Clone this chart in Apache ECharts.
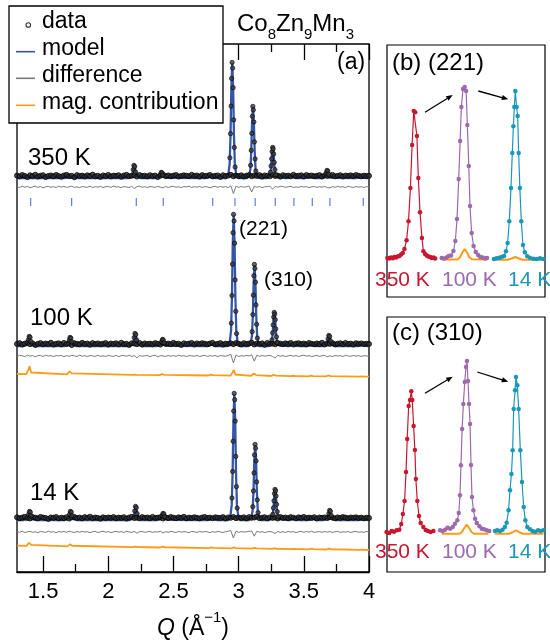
<!DOCTYPE html>
<html><head><meta charset="utf-8">
<script src="https://cdn.jsdelivr.net/npm/echarts@6/dist/echarts.min.js"></script>
<style>html,body{margin:0;padding:0;background:#fff}#c{width:550px;height:644px}</style>
</head><body><div id="c"></div><script>
// ---------- DATA ----------
const hkl = ['110','111','210','211','220','221','310','311','222','320','321','400'];
const tickQ = [1.405,1.719,2.215,2.422,2.801,2.972,3.127,3.281,3.424,3.565,3.700,3.956];
const peakQ350 = [1.391,1.703,2.199,2.409,2.782,2.951,3.110,3.262,3.407,3.546,3.680,3.934];
const peakQ100 = [1.396,1.709,2.207,2.418,2.792,2.962,3.122,3.274,3.420,3.559,3.694,3.949];
const peakQ14  = [1.398,1.712,2.211,2.422,2.797,2.967,3.127,3.280,3.425,3.565,3.700,3.955];
const peakH350 = [0,2,12,5,1,115,71,30,2,1,7,1];
const peakH100 = [9,8,12,6,2,131,81,33,1,1,10,1];
const peakH14  = [8,8,13,6,2,126,75,30,1.5,1.5,9,1];
const magH100 = [8,5,0.5,1.5,1.5,6,3.5,2,0.5,1,1.5,0.5];
const magH14  = [5,3.3,1,1.3,1,1.5,1,0.7,0.5,1,1.3,0.5];
const magBase100 = [197.9,197.6,197.1,196.9,196.5,196.3,196.2,196.0,195.9,195.7,195.6,195.3];
const magEnds100 = [198,195.3];
const magBase14 = [26.1,25.6,24.8,24.5,23.9,23.6,23.4,23.1,22.9,22.7,22.5,22.1];
const magEnds14 = [26.3,22];
const base350 = 394, base100 = 226, base14 = 52;
const dataLift = 1.2;
const diffBase350 = 385, diffBase100 = 216, diffBase14 = 40;
const tickLevel = 370;
// peak profile (offset in Q, fraction of height)
const modelDQ = [-0.045,-0.03,-0.02,-0.013,-0.007,0,0.007,0.013,0.02,0.03,0.045];
const modelFrac = [0,0.03,0.12,0.38,0.78,1,0.78,0.38,0.12,0.03,0];
const dataDQ = [-0.018,-0.013,-0.009,-0.005,-0.001,0.003,0.007,0.011,0.016,0.022];
const dataFrac = [0.17,0.38,0.62,0.86,1.0,0.95,0.78,0.5,0.26,0.09];
const dataDQsmall = [-0.008,-0.002,0.004,0.010];
const dataFracSmall = [0.65,1.0,0.9,0.45];
const magDQ = [-0.025,-0.012,-0.006,0,0.006,0.012,0.025];
const magFrac = [0,0.2,0.62,1,0.62,0.2,0];
const qGrid = [1.30,1.32,1.34,1.36,1.38,1.40,1.42,1.44,1.46,1.48,
1.50,1.52,1.54,1.56,1.58,1.60,1.62,1.64,1.66,1.68,
1.70,1.72,1.74,1.76,1.78,1.80,1.82,1.84,1.86,1.88,
1.90,1.92,1.94,1.96,1.98,2.00,2.02,2.04,2.06,2.08,
2.10,2.12,2.14,2.16,2.18,2.20,2.22,2.24,2.26,2.28,
2.30,2.32,2.34,2.36,2.38,2.40,2.42,2.44,2.46,2.48,
2.50,2.52,2.54,2.56,2.58,2.60,2.62,2.64,2.66,2.68,
2.70,2.72,2.74,2.76,2.78,2.80,2.82,2.84,2.86,2.88,
2.90,2.92,2.94,2.96,2.98,3.00,3.02,3.04,3.06,3.08,
3.10,3.12,3.14,3.16,3.18,3.20,3.22,3.24,3.26,3.28,
3.30,3.32,3.34,3.36,3.38,3.40,3.42,3.44,3.46,3.48,
3.50,3.52,3.54,3.56,3.58,3.60,3.62,3.64,3.66,3.68,
3.70,3.72,3.74,3.76,3.78,3.80,3.82,3.84,3.86,3.88,
3.90,3.92,3.94,3.96,3.98,4.00];
const noise350 = [1.2,0.4,1.8,0.9,-0.3,1.5,0.7,2.1,0.2,1.1,1.6,-0.2,0.9,1.4,0.5,1.9,0.8,
0.1,1.3,2.0,0.6,1.0,-0.4,1.7,0.9,1.2,0.3,1.5,0.8,2.2,0.5,1.1,-0.1,1.4,
0.7,1.9,0.4,1.2,0.9,1.6,0.0,1.3,2.0,0.6,1.0,1.5,0.2,1.8,0.9,1.1,0.4,
1.6,0.8,1.3,-0.2,1.0,2.1,0.7,1.4,0.5,1.2,1.8,0.3,0.9,1.5,1.1,0.6,2.0,
0.9,1.3,0.2,1.7,0.8,1.1,1.9,0.4,1.0,1.4,-0.1,1.6,0.7,1.2,2.0,0.5,1.3,
0.8,1.5,0.3,1.1,1.8,0.6,1.2,0.9,1.7,0.2,1.4,1.0,0.5,1.9,0.8,1.3,0.1,
1.6,0.9,1.2,0.4,2.0,0.7,1.1,1.5,0.3,1.8,0.9,1.3,0.6,1.0,1.7,0.2,1.4,
0.8,1.2,1.9,0.5,1.0,1.6,0.3,1.3,0.9,1.5,0.6,1.8,1.1,0.4,1.2,0.9,1.0];
const noise100 = [0.9,1.7,0.3,1.2,2.0,0.6,1.4,-0.2,1.0,1.8,0.5,1.3,0.8,2.1,0.2,1.1,1.5,
0.4,1.9,0.7,1.2,-0.3,1.6,1.0,0.5,2.0,0.9,1.3,0.1,1.7,0.8,1.4,0.6,1.1,
1.8,0.2,1.3,0.9,1.6,0.4,2.1,0.7,1.0,-0.1,1.5,1.2,0.6,1.9,0.3,1.4,0.8,
1.2,0.5,1.7,1.0,0.2,1.8,0.9,1.3,0.6,2.0,0.8,1.1,-0.2,1.5,0.7,1.2,1.9,
0.3,1.4,0.8,1.6,1.1,0.5,1.3,2.0,0.4,1.0,1.7,0.2,1.2,0.9,1.5,0.6,1.8,
1.0,0.4,1.6,0.8,1.3,2.1,0.3,1.1,0.7,1.5,0.0,1.9,0.9,1.2,0.5,1.7,1.1,
0.6,1.5,0.9,1.9,0.2,1.2,1.6,0.7,1.3,0.4,1.8,1.0,0.5,1.4,0.8,2.0,0.3,
1.3,0.9,1.7,0.4,1.1,1.5,0.6,1.9,0.8,1.2,0.3,1.6,1.0,1.4,0.7,1.1,0.9];
const noise14 = [1.5,0.6,1.2,2.0,0.9,0.3,1.7,1.1,0.5,1.9,1.3,0.8,-0.1,1.4,1.0,1.8,0.4,
1.1,0.7,1.6,0.2,1.4,1.9,0.8,1.2,0.4,1.7,1.0,2.1,0.6,1.3,0.9,0.1,1.5,
0.8,1.4,1.0,1.8,0.5,1.2,0.9,1.6,0.2,1.3,2.0,0.7,1.1,0.4,1.7,1.0,1.3,
0.5,1.9,0.9,1.2,1.6,0.3,1.4,0.8,1.8,1.1,0.6,1.5,1.0,2.0,0.4,1.2,0.7,
1.6,1.0,0.4,1.3,1.9,0.8,1.2,0.5,1.5,1.1,0.9,1.7,0.3,1.4,1.0,1.8,0.6,
1.2,0.8,1.5,0.4,1.7,1.0,1.3,2.0,0.6,1.1,1.6,0.5,1.4,0.9,1.2,0.3,1.8,
0.9,1.3,0.6,1.7,1.1,0.4,1.5,1.0,1.9,0.7,1.2,0.8,1.6,0.3,1.3,1.0,1.4,
0.7,1.6,1.1,0.5,1.4,0.9,1.8,1.2,0.6,1.3,1.0,1.5,0.8,1.2,0.4,1.1,0.9];
const diff350 = [0.3,-0.5,0.8,-0.2,0.6,-0.7,0.1,0.9,-0.4,0.5,-0.8,0.2,0.7,-0.3,0.4,-0.6,0.8,
-0.1,0.6,-0.5,0.3,0.9,-0.4,0.2,-0.7,0.5,0.1,-0.3,0.8,-0.6,0.4,-0.2,0.7,-0.5,
0.2,0.6,-0.4,0.9,-0.1,0.3,-0.7,0.5,0.0,-0.5,0.7,-1.6,0.4,0.8,-0.3,0.4,-0.6,
0.5,0.1,-0.4,0.8,-0.2,-0.9,0.6,-0.5,0.3,0.7,-0.3,0.2,-0.6,0.5,0.0,0.8,-0.4,
0.3,-0.2,0.6,-0.5,0.4,0.1,-0.7,0.2,0.6,-0.3,0.5,-0.1,0.4,-0.6,1.2,-6.5,0.8,
-0.4,0.6,-0.2,0.3,1.0,-5.0,0.7,-0.3,0.5,-0.6,0.2,0.4,0.8,-2.2,0.5,-0.2,0.6,
0.5,-0.4,0.3,0.7,-0.5,0.1,-0.3,0.6,-0.1,0.4,-0.6,0.2,0.5,-0.4,0.3,-0.2,0.6,
-0.5,-0.8,0.4,-0.3,0.6,-0.1,0.3,-0.5,0.7,0.0,-0.4,0.5,-0.2,0.3,-0.6,0.4,-0.1];
const diff100 = [-0.4,0.7,0.2,-0.6,0.9,-0.2,0.5,-0.8,0.3,0.6,-0.5,0.8,-0.1,0.4,-0.7,0.5,0.1,
0.6,-0.8,0.4,-0.3,0.7,0.2,-0.5,0.9,-0.2,0.3,-0.6,0.5,0.1,-0.4,0.8,-0.3,0.2,
-0.5,0.7,0.0,-0.4,0.6,-0.7,0.3,0.5,-0.2,0.8,-0.5,0.4,-1.8,0.6,-0.3,0.2,0.5,
-0.6,0.3,0.7,-0.9,0.4,0.1,-0.5,0.6,-0.2,0.5,-0.4,0.8,-0.1,0.3,-0.6,0.4,0.2,
-0.3,0.6,-0.5,0.2,0.7,-0.4,0.3,-0.1,0.5,-0.6,0.4,0.2,-0.3,0.6,1.8,-7.0,1.0,
-0.5,0.4,-0.2,0.6,0.1,1.2,-5.2,0.9,-0.4,0.5,-0.2,0.3,0.6,-0.5,-2.0,0.7,-0.3,
0.4,-0.6,0.2,0.7,-0.3,0.5,-0.5,0.3,0.8,-0.2,0.4,-0.7,0.1,0.6,-0.4,0.3,0.5,
-0.8,0.2,-0.6,0.5,-0.1,0.4,-0.5,0.7,0.0,-0.3,0.6,-0.2,0.4,-0.5,0.3,0.1,-0.4];
const diff14 = [0.5,-0.3,0.8,-0.6,0.2,0.7,-0.4,0.3,-0.8,0.6,0.1,-0.5,0.9,-0.2,0.4,-0.7,0.5,
-0.1,0.6,-0.4,0.8,0.2,-0.6,0.5,-0.3,0.7,-0.1,0.4,-0.7,0.3,0.6,-0.5,0.2,0.8,
-0.3,0.5,-0.6,0.1,0.7,-0.2,0.4,-0.5,0.8,0.0,-0.4,0.6,-1.2,0.3,0.5,-0.3,0.2,
0.6,-0.5,0.3,-0.1,0.8,-1.0,0.4,-0.3,0.6,0.1,-0.5,0.7,-0.2,0.4,0.0,-0.6,0.5,
0.2,-0.4,0.7,-0.2,0.5,0.1,-0.6,0.4,-0.3,0.6,0.0,-0.5,0.3,0.7,1.5,-6.0,0.9,
-0.4,0.5,-0.1,0.3,0.6,1.0,-4.2,0.8,-0.3,0.4,-0.6,0.2,0.5,-0.2,-1.6,0.6,-0.4,
0.3,-0.5,0.7,-0.1,0.4,-0.6,0.2,0.6,-0.3,0.5,-0.2,0.8,-0.5,0.1,0.4,-0.3,0.6,
-0.2,0.5,-0.6,0.3,0.7,-0.4,0.2,-0.1,0.5,-0.5,0.3,0.6,-0.3,0.2,-0.4,0.5,0.0];
// insets: [Q offset from peak, intensity]
const b350 = [[-0.113,1],[-0.105,0.5],[-0.098,1.5],[-0.091,0.8],[-0.084,2],[-0.077,1.5],[-0.070,2.5],[-0.063,3],[-0.056,4.5],[-0.049,6],[-0.042,10],[-0.033,18.7],[-0.025,37.7],[-0.017,71],[-0.010,114],[-0.003,148],[0.003,146.7],[0.010,123],[0.016,81],[0.023,46.7],[0.031,21],[0.037,7.7],[0.044,5],[0.051,3.5],[0.058,2.5],[0.065,2],[0.072,1],[0.079,1.5],[0.086,0.5]];
const b100 = [[-0.096,1],[-0.086,0.5],[-0.076,1.5],[-0.067,3],[-0.057,3.5],[-0.047,8],[-0.039,18],[-0.032,40],[-0.025,80],[-0.019,118],[-0.014,152],[-0.007,170],[0,172],[0.006,168],[0.011,134],[0.017,93],[0.022,53],[0.029,26],[0.037,13],[0.046,7],[0.056,4],[0.065,2],[0.075,1.5],[0.085,0.5],[0.093,1]];
const b14 = [[-0.089,0],[-0.078,0.7],[-0.067,1.3],[-0.057,2],[-0.047,3],[-0.039,7.7],[-0.032,16],[-0.025,37.7],[-0.018,71],[-0.0125,106],[-0.008,132.7],[-0.004,152],[0,168],[0.0055,152],[0.0097,143],[0.014,106],[0.019,71],[0.025,37.7],[0.032,14],[0.040,6.7],[0.050,2.7],[0.061,1.3],[0.075,0.3],[0.089,0],[0.103,0.7],[0.117,0]];
const bMag100 = [[-0.096,-0.5],[-0.03,-0.5],[-0.02,1.5],[-0.01,6.5],[0,10],[0.01,6.5],[0.02,1.5],[0.03,-0.3],[0.093,-0.5]];
const bMag14 = [[-0.089,-0.7],[-0.03,-0.7],[-0.015,0.5],[0,2],[0.015,0.5],[0.03,-0.7],[0.117,-0.7]];
const c350 = [[-0.103,-1],[-0.092,-2],[-0.082,0],[-0.072,-0.7],[-0.061,0.7],[-0.050,1.3],[-0.042,7],[-0.035,17],[-0.028,30],[-0.022,59],[-0.017,92],[-0.011,125],[-0.0055,131],[0,139.7],[0.004,131],[0.0097,105],[0.015,81],[0.019,52],[0.025,30],[0.032,15],[0.039,8],[0.050,4],[0.060,1],[0.069,0],[0.080,-1],[0.092,0]];
const c100 = [[-0.111,0.7],[-0.100,0],[-0.090,1.3],[-0.080,3.3],[-0.069,2.3],[-0.058,4],[-0.049,7.3],[-0.039,10.7],[-0.033,18],[-0.028,35.7],[-0.024,65.7],[-0.019,102],[-0.014,127],[-0.008,149],[-0.003,164],[0.001,170],[0.0055,150],[0.0097,127],[0.014,107],[0.018,66],[0.022,34],[0.028,20.7],[0.035,12.3],[0.042,8],[0.053,4.7],[0.063,2.3],[0.072,1.7],[0.083,0.7],[0.094,0]];
const c14 = [[-0.0875,0],[-0.078,0.7],[-0.067,0],[-0.056,1.3],[-0.046,4],[-0.039,8.3],[-0.031,20.7],[-0.025,40.7],[-0.019,57],[-0.014,80.7],[-0.0097,122],[-0.004,140.7],[0,154],[0.0055,145.7],[0.011,122],[0.018,80.7],[0.025,49],[0.032,24],[0.039,10.7],[0.047,4],[0.058,1.7],[0.069,0],[0.080,-0.7],[0.092,0.7],[0.103,0],[0.114,0.7]];
const cMag100 = [[-0.104,-2.7],[-0.03,-2.7],[-0.02,-1],[-0.01,3],[0,6.3],[0.01,3],[0.02,-1],[0.03,-2.7],[0.09,-2.7]];
const cMag14 = [[-0.088,-2.7],[-0.03,-2.7],[-0.015,-1.5],[0,0.7],[0.015,-1.5],[0.03,-2.7],[0.114,-2.7]];
const majorTicks = [1.5,2,2.5,3,3.5,4];
const minorTicks = [1.75,2.25,2.75,3.25,3.75];

// ---------- BUILD ----------
const FF = '"Liberation Sans", Arial, Helvetica, sans-serif';
const COL = {blue:'#3556a8', tick:'#3a5fc8', gray:'#7a7a7a', orange:'#ff9a14', red:'#c8162e', purple:'#9c6aad', teal:'#1898b8'};

function modelLine(pq, ph, base) {
  const pts = [[qGrid[0], base]];
  pq.forEach((q, i) => modelDQ.forEach((d, k) => pts.push([q + d, base + ph[i] * modelFrac[k]])));
  pts.push([qGrid[qGrid.length - 1], base]);
  return pts;
}
function basePts(noise, base) { return qGrid.map((q, i) => [q, base + dataLift + noise[i]]); }
function peakPts(pq, ph, base) {
  const pts = [];
  pq.forEach((q, i) => {
    if (ph[i] >= 20) dataDQ.forEach((d, k) => pts.push([q + d, base + 0.6 + ph[i] * dataFrac[k]]));
    else if (ph[i] >= 5) dataDQsmall.forEach((d, k) => pts.push([q + d, base + 0.6 + ph[i] * dataFracSmall[k]]));
  });
  return pts;
}
function diffLine(dn, base) { return qGrid.map((q, i) => [q, base + dn[i]]); }
function magLine(pq, mh, mb, ends) {
  const pts = [[qGrid[0], ends[0]]];
  pq.forEach((q, i) => magDQ.forEach((d, k) => pts.push([q + d, mb[i] + mh[i] * magFrac[k]])));
  pts.push([qGrid[qGrid.length - 1], ends[1]]);
  return pts;
}

const OB = {outerBoundsMode:'none', containLabel:false};
const grids = [
  Object.assign({left:17, top:44, width:352, height:528, show:true, borderColor:'#000', borderWidth:1.3}, OB),
  Object.assign({left:387, top:45, width:158, height:252, show:true, borderColor:'#000', borderWidth:1.2}, OB),
  Object.assign({left:414.5-28.8, top:45, width:57.6, height:252}, OB),
  Object.assign({left:464.7-28.8, top:45, width:57.6, height:252}, OB),
  Object.assign({left:515.3-28.8, top:45, width:57.6, height:252}, OB),
  Object.assign({left:387, top:317, width:158, height:255, show:true, borderColor:'#000', borderWidth:1.2}, OB),
  Object.assign({left:411.3-28.8, top:317, width:57.6, height:255}, OB),
  Object.assign({left:466.7-28.8, top:317, width:57.6, height:255}, OB),
  Object.assign({left:516-28.8, top:317, width:57.6, height:255}, OB)
];
const tickLine = {color:'#000', width:1.3};
const xAxes = [
  {gridIndex:0, type:'value', min:1.3, max:4.0, position:'bottom',
   axisLine:{show:true, lineStyle:{color:'#000', width:1.3}},
   axisTick:{show:true, inside:true, length:16, customValues:majorTicks, lineStyle:tickLine},
   axisLabel:{show:true, customValues:majorTicks, fontSize:22, fontFamily:FF, color:'#000', margin:9},
   splitLine:{show:false},
   name:'{q|Q} {t|(Å}{s|−1}{t|)}', nameLocation:'middle', nameGap:38,
   nameTextStyle:{fontFamily:FF, fontSize:23, color:'#000', lineHeight:30,
     rich:{q:{fontFamily:FF, fontSize:23, fontStyle:'italic', lineHeight:30, verticalAlign:'bottom', color:'#000'},
           t:{fontFamily:FF, fontSize:23, lineHeight:30, verticalAlign:'bottom', color:'#000'},
           s:{fontFamily:FF, fontSize:15, lineHeight:15, verticalAlign:'top', color:'#000'}}}},
  {gridIndex:0, type:'value', min:1.3, max:4.0, position:'bottom', axisLine:{show:false},
   axisTick:{show:true, inside:true, length:8, customValues:minorTicks, lineStyle:tickLine},
   axisLabel:{show:false}, splitLine:{show:false}},
  {gridIndex:0, type:'value', min:1.3, max:4.0, position:'top', axisLine:{show:false},
   axisTick:{show:true, inside:true, length:16, customValues:majorTicks, lineStyle:tickLine},
   axisLabel:{show:false}, splitLine:{show:false}},
  {gridIndex:0, type:'value', min:1.3, max:4.0, position:'top', axisLine:{show:false},
   axisTick:{show:true, inside:true, length:8, customValues:minorTicks, lineStyle:tickLine},
   axisLabel:{show:false}, splitLine:{show:false}}
];
const yAxes = [{gridIndex:0, type:'value', min:0, max:528, show:false}];
for (let g = 1; g < 9; g++) {
  xAxes.push({gridIndex:g, type:'value', min:-0.12, max:0.12, show:false});
  yAxes.push({gridIndex:g, type:'value', min: g < 5 ? -38 : -41, max:214, show:false});
}

const series = [];
function addLine(data, color, width, xi, yi, z) {
  series.push({type:'line', data, xAxisIndex:xi, yAxisIndex:yi, symbol:'none', lineStyle:{color, width}, itemStyle:{color}, z:z||2, silent:true});
}
// main panel
addLine(diffLine(diff350, diffBase350), COL.gray, 1, 0, 0);
addLine(diffLine(diff100, diffBase100), COL.gray, 1, 0, 0);
addLine(diffLine(diff14, diffBase14), COL.gray, 1, 0, 0);
addLine(magLine(peakQ100, magH100, magBase100, magEnds100), COL.orange, 1.8, 0, 0);
addLine(magLine(peakQ14, magH14, magBase14, magEnds14), COL.orange, 1.8, 0, 0);
addLine(modelLine(peakQ350, peakH350, base350), COL.blue, 2.3, 0, 0);
addLine(modelLine(peakQ100, peakH100, base100), COL.blue, 2.3, 0, 0);
addLine(modelLine(peakQ14, peakH14, base14), COL.blue, 2.3, 0, 0);
[[noise350, peakQ350, peakH350, base350],[noise100, peakQ100, peakH100, base100],[noise14, peakQ14, peakH14, base14]].forEach(a => {
  series.push({type:'scatter', data:basePts(a[0], a[3]), xAxisIndex:0, yAxisIndex:0, symbol:'circle', symbolSize:5,
    itemStyle:{color:'#2a2a2a', borderColor:'#000', borderWidth:1}, z:3, silent:true});
  series.push({type:'scatter', data:peakPts(a[1], a[2], a[3]), xAxisIndex:0, yAxisIndex:0, symbol:'circle', symbolSize:4.3,
    itemStyle:{color:'#3c3c3c', borderColor:'#000', borderWidth:0.8}, z:3, silent:true});
});
series.push({type:'scatter', data:tickQ.map(q => [q, tickLevel]), xAxisIndex:0, yAxisIndex:0, symbol:'rect', symbolSize:[1.2, 8],
  itemStyle:{color:COL.tick}, z:3, silent:true});
// insets
function addInset(data, color, gi) {
  series.push({type:'line', data, xAxisIndex:gi + 3, yAxisIndex:gi, symbol:'circle', symbolSize:4.5, showSymbol:true,
    lineStyle:{color, width:1.2}, itemStyle:{color}, z:4, silent:true});
}
addLine(bMag100, COL.orange, 2, 3 + 3, 3, 3);
addLine(bMag14, COL.orange, 2, 4 + 3, 4, 3);
addInset(b350, COL.red, 2); addInset(b100, COL.purple, 3); addInset(b14, COL.teal, 4);
addLine(cMag100, COL.orange, 2, 7 + 3, 7, 3);
addLine(cMag14, COL.orange, 2, 8 + 3, 8, 3);
addInset(c350, COL.red, 6); addInset(c100, COL.purple, 7); addInset(c14, COL.teal, 8);

// ---------- ANNOTATIONS ----------
function txt(t, x, y, size, color) {
  return {type:'text', x, y, z:110, silent:true,
    style:{text:t, fill:color || '#000', font:size + 'px ' + FF, align:'left', verticalAlign:'middle'}};
}
function arrow(x1, y1, x2, y2) {
  const dx = x2 - x1, dy = y2 - y1, L = Math.hypot(dx, dy), ux = dx / L, uy = dy / L;
  const bx = x2 - 6.5 * ux, by = y2 - 6.5 * uy, px = -uy * 2.6, py = ux * 2.6;
  return [
    {type:'line', z:110, shape:{x1, y1, x2:bx, y2:by}, style:{stroke:'#000', lineWidth:1.3}},
    {type:'polygon', z:110, shape:{points:[[x2, y2],[bx + px, by + py],[bx - px, by - py]]}, style:{fill:'#000'}}
  ];
}
const graphic = [
  {type:'rect', z:100, shape:{x:9, y:6, width:214, height:117}, style:{fill:'#fff', stroke:'#000', lineWidth:1.3}},
  {type:'circle', z:101, shape:{cx:28.3, cy:25, r:2.3}, style:{fill:'#fff', stroke:'#333', lineWidth:1.1}},
  {type:'line', z:101, shape:{x1:16, y1:51.7, x2:35, y2:51.7}, style:{stroke:COL.blue, lineWidth:1.6}},
  {type:'line', z:101, shape:{x1:16, y1:78.3, x2:35, y2:78.3}, style:{stroke:COL.gray, lineWidth:1.6}},
  {type:'line', z:101, shape:{x1:16, y1:105.3, x2:35, y2:105.3}, style:{stroke:COL.orange, lineWidth:1.6}},
  txt('data', 42, 21.5, 23), txt('model', 42, 48.3, 23), txt('difference', 42, 75.5, 23), txt('mag. contribution', 42, 102.8, 23),
  txt('350 K', 28, 158, 24), txt('100 K', 30, 318.5, 24), txt('14 K', 30, 493, 24),
  txt('(a)', 337, 63, 23),
  txt('(221)', 239, 229, 21), txt('(310)', 264, 280, 21),
  txt('(b) (221)', 392, 63, 24), txt('(c) (310)', 392, 333, 24),
  txt('350 K', 375, 280, 21, COL.red), txt('100 K', 442, 280, 21, COL.purple), txt('14 K', 508, 280, 21, COL.teal),
  txt('350 K', 375, 552.5, 21, COL.red), txt('100 K', 442, 552.5, 21, COL.purple), txt('14 K', 508, 552.5, 21, COL.teal)
].concat(arrow(425, 112.3, 452.7, 95), arrow(478.3, 91, 508.3, 99.3), arrow(425, 393.3, 452.7, 376.7), arrow(477.3, 372, 508.3, 381.7));

const chart = echarts.init(document.getElementById('c'), null, {renderer:'canvas'});
chart.setOption({
  animation:false,
  backgroundColor:'#fff',
  title:{text:'{m|Co}{s|8}{m|Zn}{s|9}{m|Mn}{s|3}', left:237, top:12, padding:0,
    textStyle:{fontFamily:FF, fontSize:24, fontWeight:'normal', color:'#000',
      rich:{m:{fontFamily:FF, fontSize:24, lineHeight:24, verticalAlign:'top', color:'#000'},
            s:{fontFamily:FF, fontSize:15, lineHeight:30, verticalAlign:'bottom', color:'#000'}}}},
  grid:grids, xAxis:xAxes, yAxis:yAxes, series, graphic
});
</script></body></html>
